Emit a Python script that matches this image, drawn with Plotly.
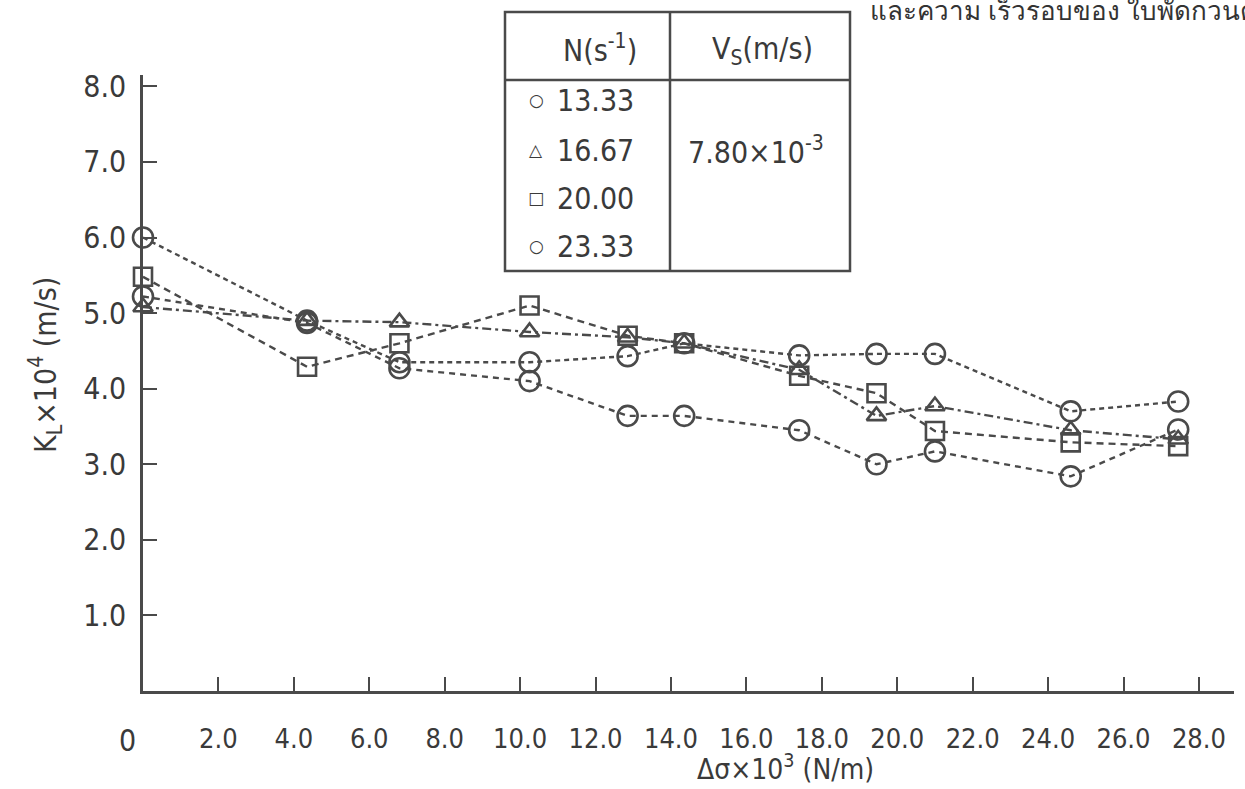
import plotly.graph_objects as go

# Surface tension difference (x 10^3 N/m) at which K_L was measured
delta_sigma = [0, 4.35, 6.8, 10.25, 12.85, 14.35, 17.4, 19.45, 21.0, 24.6, 27.45]

# K_L x 10^4 (m/s) for each impeller speed N (1/s)
kl_1333 = [5.22, 4.87, 4.27, 4.10, 3.64, 3.64, 3.45, 3.00, 3.17, 2.84, 3.46]
kl_1667 = [5.08, 4.90, 4.88, 4.75, 4.68, 4.60, 4.25, 3.64, 3.77, 3.45, 3.33]
kl_2000 = [5.48, 4.29, 4.60, 5.10, 4.70, 4.60, 4.17, 3.94, 3.44, 3.29, 3.24]
kl_2333 = [6.00, 4.90, 4.35, 4.35, 4.43, 4.60, 4.44, 4.46, 4.46, 3.70, 3.83]

speed_labels = ["13.33", "16.67", "20.00", "23.33"]
vs_label = "7.80×10<sup>-3</sup>"

x_ticks = [2, 4, 6, 8, 10, 12, 14, 16, 18, 20, 22, 24, 26, 28]
x_tick_text = ["2.0", "4.0", "6.0", "8.0", "10.0", "12.0", "14.0", "16.0",
               "18.0", "20.0", "22.0", "24.0", "26.0", "28.0"]
y_ticks = [1, 2, 3, 4, 5, 6, 7, 8]
y_tick_text = ["1.0", "2.0", "3.0", "4.0", "5.0", "6.0", "7.0", "8.0"]

W, H = 1245, 789
ML, MR, MT, MB = 143, 11, 75, 98
INK = "#4a4a4a"
TXT = "#3a3a3a"
FONT = "DejaVu Sans Condensed, Liberation Sans Narrow, Liberation Sans, sans-serif"


def px(x):
    return (x - ML) / (W - ML - MR)


def py(y):
    return (H - MB - y) / (H - MT - MB)


series = [
    (kl_1333, "circle-open", 20, "6px,5px"),
    (kl_1667, "triangle-up-open", 17, "9px,4px,3px,4px"),
    (kl_2000, "square-open", 18, "7px,5px"),
    (kl_2333, "circle-open", 20, "5px,4px"),
]

fig = go.Figure()
for (vals, sym, size, dash), name in zip(series, speed_labels):
    fig.add_trace(go.Scatter(
        x=delta_sigma, y=vals, name=name, mode="lines+markers",
        line=dict(color=INK, width=2.4, dash=dash),
        marker=dict(symbol=sym, size=size, color=INK,
                    line=dict(color=INK, width=2.6)),
        cliponaxis=False, showlegend=False,
    ))

fig.update_layout(
    width=W, height=H,
    margin=dict(l=ML, r=MR, t=MT, b=MB),
    paper_bgcolor="white", plot_bgcolor="white",
    font=dict(family=FONT, color=TXT),
    xaxis=dict(range=[0, 28.93], showgrid=False, zeroline=False,
               showline=True, linecolor=INK, linewidth=2.5,
               ticks="inside", ticklen=14, tickwidth=2, tickcolor=INK,
               tickvals=x_ticks, ticktext=x_tick_text,
               tickfont=dict(size=27, family=FONT, color=TXT),
               ticklabelstandoff=22),
    yaxis=dict(range=[0, 8.15], showgrid=False, zeroline=False,
               showline=True, linecolor=INK, linewidth=2.5,
               ticks="inside", ticklen=14, tickwidth=2, tickcolor=INK,
               tickvals=y_ticks, ticktext=y_tick_text,
               tickfont=dict(size=30, family=FONT, color=TXT),
               ticklabelstandoff=8),
)

annotations = [
    dict(x=px(127), y=py(740), text="0", font=dict(size=30)),
    dict(x=px(785), y=py(767), text="Δσ×10<sup>3</sup> (N/m)",
         font=dict(size=28)),
    dict(x=px(45), y=py(365), text="K<sub>L</sub>×10<sup>4</sup> (m/s)",
         textangle=-90, font=dict(size=30)),
    # table header
    dict(x=px(600), y=py(48), text="N(s<sup>-1</sup>)", font=dict(size=30)),
    dict(x=px(762), y=py(50), text="V<sub>S</sub>(m/s)", font=dict(size=30)),
    dict(x=px(756), y=py(150), text=vs_label, font=dict(size=30)),
    # Thai caption running off the right edge
    dict(x=px(868), y=py(10), text="และความ เร็วรอบของ ใบพัดกวนต่าง ๆ",
         xanchor="left",
         font=dict(size=26, color="#333333",
                   family="Noto Sans, DejaVu Sans, sans-serif")),
]
symbols = ["○", "△", "□", "○"]
row_y = [100, 150, 198, 246]
for sym, lab, ry in zip(symbols, speed_labels, row_y):
    annotations.append(dict(x=px(536), y=py(ry), text=sym,
                            font=dict(size=17, family="DejaVu Sans")))
    annotations.append(dict(x=px(555), y=py(ry), text=lab, xanchor="left",
                            font=dict(size=30)))
for a in annotations:
    a.setdefault("xref", "paper")
    a.setdefault("yref", "paper")
    a.setdefault("showarrow", False)
    a.setdefault("xanchor", "center")
    a.setdefault("yanchor", "middle")
fig.update_layout(annotations=annotations)

# table frame
shapes = [
    dict(type="rect", x0=px(505), x1=px(850), y0=py(12), y1=py(271)),
    dict(type="line", x0=px(505), x1=px(850), y0=py(80), y1=py(80)),
    dict(type="line", x0=px(670), x1=px(670), y0=py(12), y1=py(271)),
]
for s in shapes:
    s.update(xref="paper", yref="paper", line=dict(color=INK, width=2.5))
fig.update_layout(shapes=shapes)

fig.write_html("out.html")
